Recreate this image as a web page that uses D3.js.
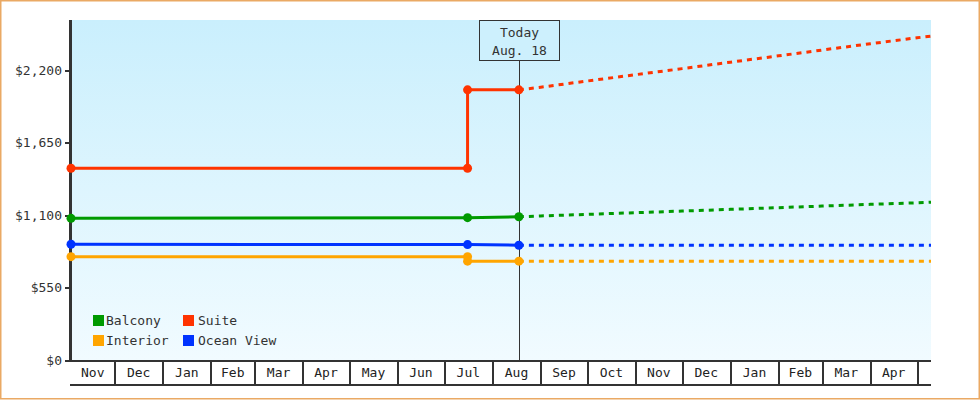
<!DOCTYPE html>
<html lang="en">
<head>
<meta charset="utf-8">
<title>Cabin price history and forecast</title>
<script src="https://d3js.org/d3.v7.min.js"></script>
<style>
  body { margin: 0; background: #fff; }
  svg text { font-family: "DejaVu Sans Mono", monospace; font-size: 13px; fill: #222; }
  .yaxis line { stroke: #333; stroke-width: 2px; shape-rendering: crispEdges; }
  .yaxis path { display: none; }
  .xaxis line { stroke: #333; stroke-width: 2px; shape-rendering: crispEdges; }
  .xaxis path { display: none; }
</style>
</head>
<body>
<div id="chart"></div>
<script>
// ---- data ----
var seriesNames = ["Balcony", "Suite", "Interior", "Ocean View"]
var seriesColors = ["#009a00", "#ff3300", "#ffa500", "#0033ff"]

// price history (solid)
var balconyDates = ["2017-11-03", "2018-07-16", "2018-08-18"]
var balconyPrices = [1075, 1080, 1087]
var suiteDates = ["2017-11-03", "2018-07-16", "2018-07-16", "2018-08-18"]
var suitePrices = [1455, 1455, 2050, 2050]
var interiorDates = ["2017-11-03", "2018-07-16", "2018-07-16", "2018-08-18"]
var interiorPrices = [784, 784, 750, 750]
var oceanDates = ["2017-11-03", "2018-07-16", "2018-08-18"]
var oceanPrices = [878, 876, 871]

// forecast (dotted)
var forecastDates = ["2018-08-18", "2018-09-01", "2018-10-01", "2018-11-01", "2018-12-01",
  "2019-01-01", "2019-02-01", "2019-03-01", "2019-04-01", "2019-05-01", "2019-05-10"]
var balconyForecast = [1087, 1093, 1105, 1118, 1130, 1143, 1156, 1168, 1181, 1193, 1197]
var suiteForecast = [2050, 2070, 2117, 2165, 2211, 2260, 2308, 2352, 2400, 2445, 2458]
var interiorForecast = [750, 750, 750, 750, 750, 750, 750, 750, 750, 750, 750]
var oceanForecast = [871, 871, 871, 871, 871, 871, 871, 871, 871, 871, 871]

var yTicks = [0, 550, 1100, 1650, 2200]
var todayDate = "2018-08-18"
var todayLabel = ["Today", "Aug. 18"]
var startDate = "2017-11-03"
var endDate = "2019-05-10"

var parse = d3.timeParse("%Y-%m-%d")

var w = 980
var h = 400
var padL = 71, padR = 931, padT = 20, padB = 360

var svg = d3.select("#chart")
    .append("svg")
    .attr("width", w)
    .attr("height", h)

// outer frame
svg.append("rect")
    .attr("x", 0.75).attr("y", 0.75)
    .attr("width", w - 1.5).attr("height", h - 2)
    .attr("fill", "#fff")
    .attr("stroke", "#eaa964")
    .attr("stroke-width", 1.5)

var defs = svg.append("defs")
var grad = defs.append("linearGradient")
    .attr("id", "bg").attr("x1", 0).attr("y1", 0).attr("x2", 0).attr("y2", 1)
grad.append("stop").attr("offset", "0%").attr("stop-color", "#caeffd")
grad.append("stop").attr("offset", "100%").attr("stop-color", "#f1fbff")

var xScale = d3.scaleTime()
    .domain([parse(startDate), parse(endDate)])
    .range([padL, padR])

var yScale = d3.scaleLinear()
    .domain([0, 2580])
    .range([padB, padT])

// plot background
svg.append("rect")
    .attr("x", padL).attr("y", padT)
    .attr("width", padR - padL).attr("height", padB - padT)
    .attr("fill", "url(#bg)")

// x axis: month boxes
var monthStarts = d3.timeMonth.range(d3.timeMonth.floor(parse(startDate)), parse(endDate))
var xAxis = d3.axisBottom(xScale)
    .tickValues(monthStarts.slice(1))
    .tickSize(25)
    .tickFormat("")
svg.append("g")
    .attr("class", "xaxis")
    .attr("transform", "translate(0," + padB + ")")
    .call(xAxis)

svg.append("line")
    .attr("x1", padL - 1).attr("x2", padR)
    .attr("y1", padB + 25).attr("y2", padB + 25)
    .attr("stroke", "#333").attr("stroke-width", 2)
    .style("shape-rendering", "crispEdges")

svg.selectAll(".monthlabel")
    .data(monthStarts.filter(function(d) {
        return d3.timeMonth.offset(d, 1) <= parse(endDate)
    }))
    .enter()
    .append("text")
    .attr("class", "monthlabel")
    .attr("x", function(d) {
        var a = Math.max(xScale(d), padL)
        return (a + xScale(d3.timeMonth.offset(d, 1))) / 2
    })
    .attr("y", padB + 17)
    .attr("text-anchor", "middle")
    .text(d3.timeFormat("%b"))

// y axis
var yAxis = d3.axisLeft(yScale)
    .tickValues(yTicks)
    .tickSize(5)
    .tickPadding(3)
    .tickFormat(d3.format("$,"))
svg.append("g")
    .attr("class", "yaxis")
    .attr("transform", "translate(" + (padL - 1) + ",0)")
    .call(yAxis)
    .selectAll("text")
    .style("fill", "#333")

// bottom axis line and left axis line
svg.append("line")
    .attr("x1", padL - 1).attr("x2", padR)
    .attr("y1", padB + 1).attr("y2", padB + 1)
    .attr("stroke", "#333").attr("stroke-width", 2)
svg.append("line")
    .attr("x1", padL - 0.5).attr("x2", padL - 0.5)
    .attr("y1", padT).attr("y2", padB + 2)
    .attr("stroke", "#333").attr("stroke-width", 3)

// today marker
var tx = Math.round(xScale(parse(todayDate))) + 0.5
svg.append("line")
    .attr("x1", tx).attr("x2", tx)
    .attr("y1", 60).attr("y2", padB)
    .attr("stroke", "#333").attr("stroke-width", 1)
svg.append("rect")
    .attr("x", tx - 40).attr("y", padT + 0.5)
    .attr("width", 80).attr("height", 40)
    .attr("fill", "#cdf0fd")
    .attr("stroke", "#333").attr("stroke-width", 1)
svg.selectAll(".today")
    .data(todayLabel)
    .enter()
    .append("text")
    .attr("class", "today")
    .attr("x", tx)
    .attr("y", function(d, i) { return 37 + i * 18 })
    .attr("text-anchor", "middle")
    .style("fill", "#333")
    .text(function(d) { return d })

// lines
var line = d3.line()
    .x(function(d) { return xScale(d.date) })
    .y(function(d) { return yScale(d.price) })

function zip(dates, prices) {
    return dates.map(function(d, i) { return { date: parse(d), price: prices[i] } })
}

var pastData = [
    zip(balconyDates, balconyPrices),
    zip(suiteDates, suitePrices),
    zip(interiorDates, interiorPrices),
    zip(oceanDates, oceanPrices)
]
var futureData = [
    zip(forecastDates, balconyForecast),
    zip(forecastDates, suiteForecast),
    zip(forecastDates, interiorForecast),
    zip(forecastDates, oceanForecast)
]

// draw order: suite, balcony, interior, ocean view on top
var order = [1, 0, 2, 3]
order.forEach(function(k) {
    svg.append("path")
        .datum(futureData[k])
        .attr("d", line)
        .attr("fill", "none")
        .attr("stroke", seriesColors[k])
        .attr("stroke-width", 3)
        .attr("stroke-dasharray", "5,5")

    svg.append("path")
        .datum(pastData[k])
        .attr("d", line)
        .attr("fill", "none")
        .attr("stroke", seriesColors[k])
        .attr("stroke-width", 3)

    svg.selectAll(".dot" + k)
        .data(pastData[k])
        .enter()
        .append("circle")
        .attr("class", "dot" + k)
        .attr("cx", function(d) { return xScale(d.date) })
        .attr("cy", function(d) { return yScale(d.price) })
        .attr("r", 4.5)
        .attr("fill", seriesColors[k])
})

// legend
var legend = svg.selectAll(".legend")
    .data(seriesNames)
    .enter()
    .append("g")
    .attr("class", "legend")
    .attr("transform", function(d, i) {
        return "translate(" + (93 + (i % 2) * 90) + "," + (315 + Math.floor(i / 2) * 20) + ")"
    })
legend.append("rect")
    .attr("width", 11).attr("height", 11)
    .attr("fill", function(d, i) { return seriesColors[i] })
legend.append("text")
    .attr("x", function(d, i) { return i % 2 ? 15 : 13 })
    .attr("y", 10)
    .style("fill", "#333")
    .text(function(d) { return d })
</script>
</body>
</html>
